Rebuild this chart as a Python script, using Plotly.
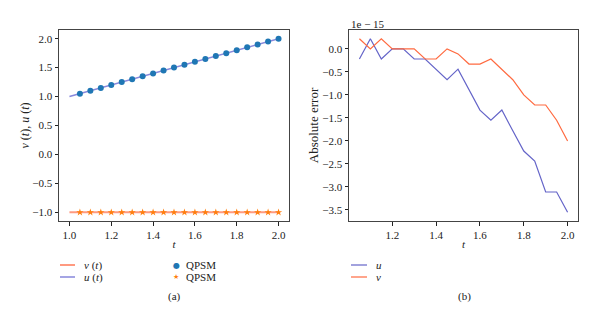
import plotly.graph_objects as go

# Exact solutions on [1, 2] and QPSM nodes
t_line = [1.0, 2.0]
v_line = [-1.0, -1.0]
u_line = [1.0, 2.0]

t_nodes = [1.05, 1.10, 1.15, 1.20, 1.25, 1.30, 1.35, 1.40, 1.45, 1.50,
           1.55, 1.60, 1.65, 1.70, 1.75, 1.80, 1.85, 1.90, 1.95, 2.00]
u_qpsm = [1.05, 1.10, 1.15, 1.20, 1.25, 1.30, 1.35, 1.40, 1.45, 1.50,
          1.55, 1.60, 1.65, 1.70, 1.75, 1.80, 1.85, 1.90, 1.95, 2.00]
v_qpsm = [-1.0] * 20

# Absolute errors, in units of 1e-15
err_u = [-0.22, 0.22, -0.22, 0.0, 0.0, -0.22, -0.22, -0.44, -0.67, -0.44,
         -0.89, -1.33, -1.55, -1.33, -1.78, -2.22, -2.44, -3.11, -3.11, -3.55]
err_v = [0.22, 0.0, 0.22, 0.0, 0.0, 0.0, -0.22, -0.22, 0.0, -0.11,
         -0.33, -0.33, -0.22, -0.44, -0.67, -1.0, -1.22, -1.22, -1.55, -2.0]

left_ticks = [1.0, 1.2, 1.4, 1.6, 1.8, 2.0]
right_ticks = [1.2, 1.4, 1.6, 1.8, 2.0]

FONT = "Liberation Serif"
INK = "#222222"
BLUE_L = "rgba(106,106,210,0.8)"
ORANGE_L = "rgba(255,120,85,0.75)"
BLUE = "#6464C8"
ORANGE = "#FF6A40"
DOT_BLUE = "#1f77b4"
STAR_ORANGE = "#ff7f0e"

W, H = 600, 322


def px(x):
    return x / W


def py(y):
    return 1 - y / H


fig = go.Figure()

fig.add_trace(go.Scatter(x=t_line, y=v_line, mode="lines", name="v (t)",
                         line=dict(color=ORANGE_L, width=2), xaxis="x", yaxis="y"))
fig.add_trace(go.Scatter(x=t_line, y=u_line, mode="lines", name="u (t)",
                         line=dict(color=BLUE_L, width=1.5), xaxis="x", yaxis="y"))
fig.add_trace(go.Scatter(x=t_nodes, y=u_qpsm, mode="markers", name="QPSM",
                         marker=dict(color=DOT_BLUE, size=6, symbol="circle"),
                         xaxis="x", yaxis="y"))
fig.add_trace(go.Scatter(x=t_nodes, y=v_qpsm, mode="markers", name="QPSM",
                         marker=dict(color=STAR_ORANGE, size=5.5, symbol="star"),
                         xaxis="x", yaxis="y"))

fig.add_trace(go.Scatter(x=t_nodes, y=err_u, mode="lines", name="u",
                         line=dict(color=BLUE, width=1.2), xaxis="x2", yaxis="y2"))
fig.add_trace(go.Scatter(x=t_nodes, y=err_v, mode="lines", name="v",
                         line=dict(color=ORANGE, width=1.2), xaxis="x2", yaxis="y2"))

axis_common = dict(showgrid=False, zeroline=False, showline=True, mirror=True,
                   linecolor="#444444", linewidth=1, ticks="outside", ticklen=3.5,
                   tickwidth=0.8, tickcolor=INK,
                   tickfont=dict(family=FONT, size=11, color=INK))

fig.update_layout(
    width=W, height=H,
    margin=dict(l=0, r=0, t=0, b=0),
    paper_bgcolor="white", plot_bgcolor="white",
    font=dict(family=FONT, size=11, color=INK),
    showlegend=False,
    xaxis=dict(domain=[px(59), px(289)], range=[0.95, 2.05],
               tickvals=left_ticks, tickformat=".1f",
               title=dict(text="<i>t</i>", standoff=0,
                          font=dict(family=FONT, size=11)),
               anchor="y", **axis_common),
    yaxis=dict(domain=[py(221), py(30)], range=[-1.15, 2.15],
               dtick=0.5, tick0=0, tickformat=".1f",
               title=dict(text="<i>v</i> (<i>t</i>), <i>u</i> (<i>t</i>)", standoff=0,
                          font=dict(family=FONT, size=12)),
               anchor="x", **axis_common),
    xaxis2=dict(domain=[px(349), px(578)], range=[1.0025, 2.0475],
                tickvals=right_ticks, tickformat=".1f",
                title=dict(text="<i>t</i>", standoff=0,
                           font=dict(family=FONT, size=11)),
                anchor="y2", **axis_common),
    yaxis2=dict(domain=[py(221), py(30)], range=[-3.74, 0.41],
                dtick=0.5, tick0=0, tickformat=".1f",
                title=dict(text="Absolute error", standoff=0,
                           font=dict(family=FONT, size=13)),
                anchor="x2", **axis_common),
)


def legend_line(x0, x1, y, color, width):
    fig.add_shape(type="line", xref="paper", yref="paper",
                  x0=px(x0), x1=px(x1), y0=py(y), y1=py(y),
                  line=dict(color=color, width=width))


def text(s, x, y, size=11, anchor="left", color=INK, family=FONT):
    fig.add_annotation(text=s, x=px(x), y=py(y), xref="paper", yref="paper",
                       xanchor=anchor, yanchor="middle", showarrow=False,
                       font=dict(family=family, size=size, color=color))


# Legend of panel (a): line keys, then marker keys
legend_line(60, 75, 265, ORANGE_L, 2)
text("<i>v</i> (<i>t</i>)", 82, 265)
legend_line(60, 75, 277, BLUE_L, 1.5)
text("<i>u</i> (<i>t</i>)", 82, 277)
text("●", 176, 265, size=8, anchor="center", color=DOT_BLUE, family="DejaVu Sans")
text("QPSM", 184, 265)
text("★", 176, 277, size=7, anchor="center", color=STAR_ORANGE, family="DejaVu Sans")
text("QPSM", 184, 277)

# Legend of panel (b)
legend_line(351, 367, 265, BLUE, 1.2)
text("<i>u</i>", 374, 265)
legend_line(351, 367, 277, ORANGE, 1.2)
text("<i>v</i>", 374, 277)

# Offset text of the error axis and panel captions
text("1e − 15", 349, 24)
text("(a)", 174, 296, anchor="center")
text("(b)", 464, 296, anchor="center")

fig.write_html("out.html")
